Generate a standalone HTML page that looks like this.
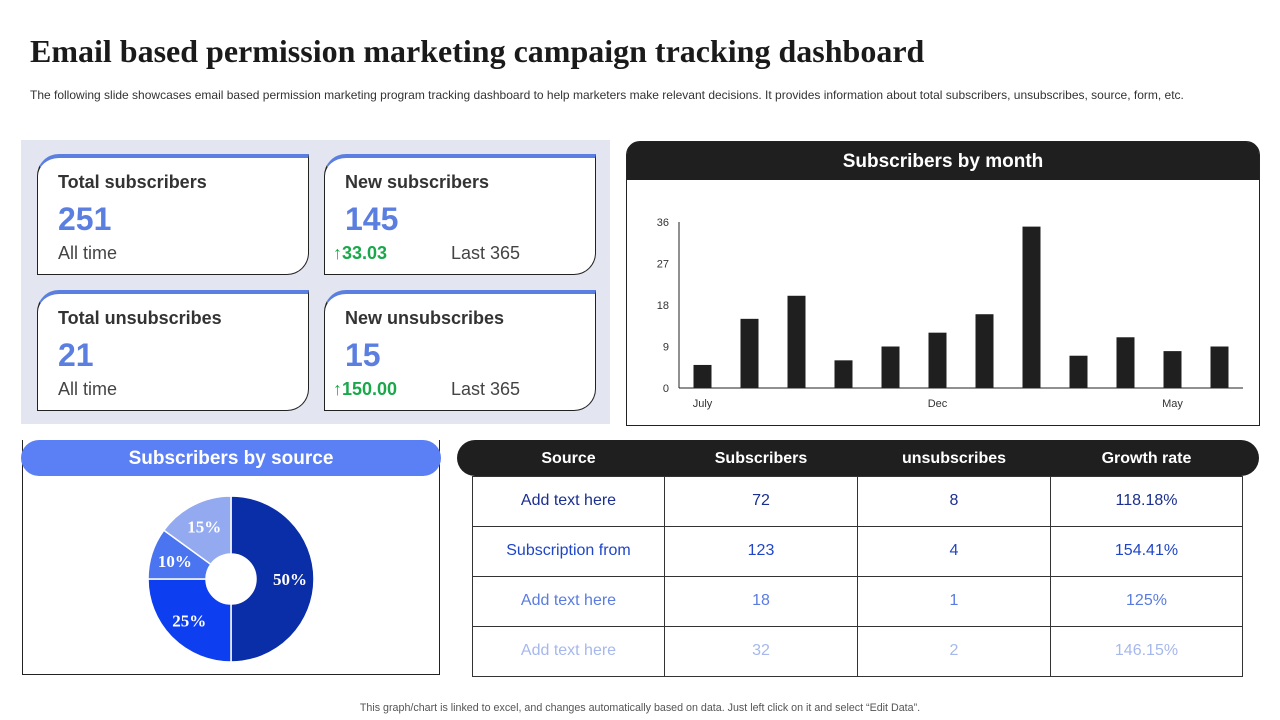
<!DOCTYPE html>
<html><head><meta charset="utf-8"><style>
*{margin:0;padding:0;box-sizing:border-box}
body{width:1280px;height:720px;background:#fff;position:relative;font-family:"Liberation Sans",sans-serif;overflow:hidden}
.abs{position:absolute}
h1{position:absolute;left:30px;top:33px;font-family:"Liberation Serif",serif;font-size:32px;font-weight:bold;color:#1a1a1a;white-space:nowrap}
.sub{left:30px;top:88px;font-size:12px;color:#333;white-space:nowrap}
.panel{left:21px;top:140px;width:589px;height:284px;background:#e3e6f0}
.card{position:absolute;width:272px;height:121px;background:#fff;border:1.5px solid #222;border-top:4px solid #5b7fe0;border-radius:22px 0 22px 0}
.card .t{position:absolute;left:20px;top:14px;font-size:18px;font-weight:bold;color:#333}
.card .v{position:absolute;left:20px;top:43px;font-size:32px;font-weight:bold;color:#5b7fe0}
.card .l{position:absolute;left:20px;top:85px;font-size:18px;color:#444}
.card .g{position:absolute;left:8px;top:85px;font-size:18px;font-weight:bold;color:#1aa84b}
.card .r{position:absolute;left:126px;top:85px;font-size:18px;color:#444}
th,td{text-align:center}
th{padding-top:3px}
</style></head><body>
<h1>Email based permission marketing campaign tracking dashboard</h1>
<div class="abs sub">The following slide showcases email based permission marketing program tracking dashboard to help marketers make relevant decisions. It provides information about total subscribers, unsubscribes, source, form, etc.</div>
<div class="abs panel">
 <div class="card" style="left:16px;top:14px"><div class="t">Total subscribers</div><div class="v">251</div><div class="l">All time</div></div>
 <div class="card" style="left:303px;top:14px"><div class="t">New subscribers</div><div class="v">145</div><div class="g">↑33.03</div><div class="r">Last 365</div></div>
 <div class="card" style="left:16px;top:150px"><div class="t">Total unsubscribes</div><div class="v">21</div><div class="l">All time</div></div>
 <div class="card" style="left:303px;top:150px"><div class="t">New unsubscribes</div><div class="v">15</div><div class="g">↑150.00</div><div class="r">Last 365</div></div>
</div>
<div class="abs" style="left:626px;top:141px;width:634px;height:285px;border:1.5px solid #222;border-radius:14px 14px 0 0">
 <div style="height:38px;background:#1f1f1f;border-radius:12px 12px 0 0;color:#fff;font-weight:bold;font-size:19px;text-align:center;line-height:40px">Subscribers by month</div>
</div>
<svg class="abs" id="bars" style="left:0;top:0" width="1280" height="720"></svg>
<div class="abs" style="left:22px;top:440px;width:418px;height:235px;border:1.5px solid #222;border-top:none"></div>
<div class="abs" style="left:21px;top:440px;width:420px;height:36px;background:#5b7ff5;border-radius:18px;color:#fff;font-weight:bold;font-size:19px;text-align:center;line-height:38px">Subscribers by source</div>
<svg class="abs" id="pie" style="left:0;top:0" width="1280" height="720"></svg>
<div class="abs" style="left:457px;top:440px;width:802px;height:36px;background:#1f1f1f;border-radius:18px"></div>
<table class="abs" style="left:472px;top:440px;width:771px;border-collapse:collapse;font-size:16px">
<tr style="height:36px;color:#fff;font-weight:bold"><th style="width:192px">Source</th><th style="width:193px">Subscribers</th><th style="width:193px">unsubscribes</th><th>Growth rate</th></tr>
<tr style="height:50px;color:#1a2f8f"><td style="border:1.5px solid #333">Add text here</td><td style="border:1.5px solid #333">72</td><td style="border:1.5px solid #333">8</td><td style="border:1.5px solid #333">118.18%</td></tr>
<tr style="height:50px;color:#1f45c8"><td style="border:1.5px solid #333">Subscription from</td><td style="border:1.5px solid #333">123</td><td style="border:1.5px solid #333">4</td><td style="border:1.5px solid #333">154.41%</td></tr>
<tr style="height:50px;color:#5a7ce0"><td style="border:1.5px solid #333">Add text here</td><td style="border:1.5px solid #333">18</td><td style="border:1.5px solid #333">1</td><td style="border:1.5px solid #333">125%</td></tr>
<tr style="height:50px;color:#a6b8ec"><td style="border:1.5px solid #333">Add text here</td><td style="border:1.5px solid #333">32</td><td style="border:1.5px solid #333">2</td><td style="border:1.5px solid #333">146.15%</td></tr>
</table>
<div class="abs" style="left:0;width:1280px;top:702px;text-align:center;font-size:10.7px;color:#555">This graph/chart is linked to excel, and changes automatically based on data. Just left click on it and select “Edit Data”.</div>
<script>
const months=["July","Aug","Sep","Oct","Nov","Dec","Jan","Feb","Mar","Apr","May","Jun"];
const subs=[5,15,20,6,9,12,16,35,7,11,8,9];
const yTicks=[0,9,18,27,36];
const shownLabels=["July","Dec","May"];
const NS="http://www.w3.org/2000/svg";
function mk(p,t,a){const e=document.createElementNS(NS,t);for(const k in a)e.setAttribute(k,a[k]);p.appendChild(e);return e;}
const bs=document.getElementById('bars');
const x0=679,x1=1243,y0=388,y1=222,band=(x1-x0)/months.length;
const y=v=>y0-(v/36)*(y0-y1);
const xa=mk(bs,'line',{x1:x0,y1:y0,x2:x1,y2:y0,stroke:'#222','stroke-width':1});


const ya=mk(bs,'line',{x1:x0,y1:y0,x2:x0,y2:y1,stroke:'#222','stroke-width':1});


yTicks.forEach(t=>{const e=mk(bs,'text',{x:669,y:y(t)+4,'text-anchor':'end','font-size':11,fill:'#333','font-family':'Liberation Sans'});e.textContent=t;

});
months.forEach((m,i)=>{const cx=x0+band*(i+0.5);
const r=mk(bs,'rect',{x:cx-9,y:y(subs[i]),width:18,height:y0-y(subs[i]),fill:'#1f1f1f'});


if(shownLabels.includes(m)){const t=mk(bs,'text',{x:cx,y:407,'text-anchor':'middle','font-size':11,fill:'#333','font-family':'Liberation Sans'});t.textContent=m;

}});
const shares=[50,25,10,15];
const shareColors=['#0a2da8','#0d3ef0','#4a74f0','#94aaf0'];
const ps=document.getElementById('pie');
const cx=231,cy=579,R=83,ri=25;let a=0;
shares.forEach((s,i)=>{const a2=a+s/100*2*Math.PI;
const p=(ang,r)=>[cx+r*Math.sin(ang),cy-r*Math.cos(ang)];
const [ax,ay]=p(a,R),[bx,by]=p(a2,R),[cx2,cy2]=p(a2,ri),[dx,dy]=p(a,ri);const lg=(a2-a)>Math.PI?1:0;
const path=mk(ps,'path',{d:`M${ax},${ay}A${R},${R} 0 ${lg} 1 ${bx},${by}L${cx2},${cy2}A${ri},${ri} 0 ${lg} 0 ${dx},${dy}Z`,fill:shareColors[i],stroke:'#fff','stroke-width':1.5});


const m=(a+a2)/2,[lx,ly]=p(m,59);
const t=mk(ps,'text',{x:lx,y:ly+6,'text-anchor':'middle','font-size':17,'font-weight':'bold',fill:'#fff','font-family':'Liberation Serif'});t.textContent=s+'%';


a=a2;});
</script>
</body></html>
